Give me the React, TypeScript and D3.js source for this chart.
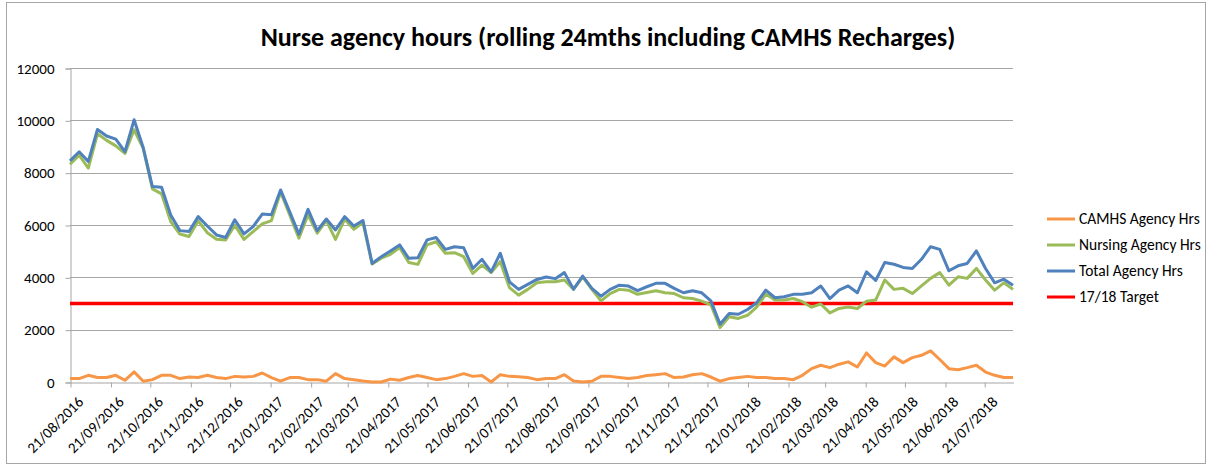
import * as d3 from "d3";
import { useEffect, useRef } from "react";

// weekly readings from 21/08/2016
const startDate = new Date(2016, 7, 21);

const camhsHrs = [
  130, 130, 255, 170, 170, 255, 65, 385, 30, 90, 255, 255, 130, 190, 170, 255, 170, 130, 215, 190,
  215, 345, 170, 30, 170, 170, 90, 90, 30, 320, 130, 90, 40, 0, 0, 110, 65, 170, 245, 170,
  90, 130, 215, 320, 215, 245, 0, 280, 215, 205, 170, 90, 130, 130, 280, 40, 0, 30, 215, 215,
  170, 130, 170, 245, 280, 320, 170, 190, 280, 320, 190, 30, 130, 170, 215, 170, 170, 130, 130, 90,
  255, 510, 640, 550, 680, 770, 575, 1110, 740, 610, 960, 740, 930, 1020, 1190, 860, 510, 470, 550, 640,
  380, 255, 170, 170,
];

const nursingHrs = [
  8320, 8670, 8175, 9485, 9235, 9025, 8735, 9640, 8925, 7380, 7190, 6130, 5655, 5560, 6155, 5705, 5455, 5430, 5990, 5450,
  5745, 6040, 6170, 7260, 6380, 5500, 6390, 5690, 6170, 5450, 6220, 5835, 6090, 4510, 4730, 4880, 5140, 4570, 4495, 5240,
  5360, 4920, 4940, 4790, 4150, 4470, 4180, 4600, 3610, 3320, 3540, 3790, 3830, 3830, 3900, 3540, 4020, 3540, 3100, 3380,
  3540, 3510, 3350, 3420, 3490, 3410, 3380, 3220, 3190, 3090, 2950, 2080, 2490, 2430, 2550, 2860, 3360, 3130, 3130, 3190,
  3070, 2860, 2980, 2640, 2810, 2870, 2810, 3090, 3130, 3900, 3540, 3580, 3380, 3670, 3960, 4180, 3700, 4020, 3960, 4340,
  3900, 3510, 3790, 3540,
];

const totalHrs = [
  8450, 8800, 8430, 9650, 9400, 9280, 8800, 10020, 8950, 7470, 7445, 6385, 5785, 5750, 6320, 5960, 5620, 5520, 6200, 5660,
  5940, 6420, 6390, 7340, 6500, 5650, 6600, 5785, 6230, 5810, 6320, 5960, 6170, 4530, 4790, 5010, 5240, 4725, 4750, 5430,
  5520, 5070, 5170, 5130, 4340, 4690, 4210, 4920, 3830, 3540, 3730, 3920, 4010, 3950, 4180, 3550, 4050, 3580, 3280, 3540,
  3700, 3665, 3490, 3640, 3770, 3770, 3580, 3410, 3490, 3410, 3100, 2210, 2620, 2590, 2770, 3030, 3510, 3220, 3260, 3350,
  3350, 3410, 3670, 3190, 3510, 3670, 3410, 4210, 3880, 4570, 4500, 4380, 4340, 4690, 5170, 5070, 4250, 4440, 4530, 5010,
  4340, 3790, 3930, 3700,
];

const target = 3000;

const seriesNames = ["CAMHS Agency Hrs", "Nursing Agency Hrs", "Total Agency Hrs", "17/18 Target"];
const seriesColors = ["#F79646", "#9BBB59", "#4F81BD", "#FF0000"];

const yTicks = [0, 2000, 4000, 6000, 8000, 10000, 12000];
// monthly tick labels on the 21st
const xTicks = d3.range(24).map((i) => new Date(2016, 7 + i, 21));

const font = "Carlito, Calibri, Lato, sans-serif";

export default function App() {
  const ref = useRef<SVGSVGElement>(null);

  useEffect(() => {
    const svg = d3.select(ref.current);
    svg.selectAll("*").remove();

    const width = 1208;
    const dates = totalHrs.map((_, i) => d3.timeDay.offset(startDate, i * 7));

    const x = d3.scaleTime().domain([dates[0], dates[dates.length - 1]]).range([70, 1013]);
    const y = d3.scaleLinear().domain([0, 12000]).range([382, 68]);

    svg.append("rect")
      .attr("x", 6.5).attr("y", 2.5)
      .attr("width", width - 9).attr("height", 461)
      .attr("fill", "white").attr("stroke", "#A6A6A6");

    svg.append("text")
      .attr("x", 608).attr("y", 46)
      .attr("text-anchor", "middle")
      .style("font-family", font).style("font-weight", "bold").style("font-size", "26px")
      .text("Nurse agency hours (rolling 24mths including CAMHS Recharges)");

    // gridlines
    svg.append("g").selectAll("line").data(yTicks.slice(1)).enter().append("line")
      .attr("x1", 70).attr("x2", 1013)
      .attr("y1", (d) => Math.round(y(d)) + 0.5).attr("y2", (d) => Math.round(y(d)) + 0.5)
      .attr("stroke", "#A6A6A6");

    const yAxis = svg.append("g")
      .attr("transform", "translate(70.5,0.5)")
      .call(d3.axisLeft(y).tickValues(yTicks).tickSize(5).tickPadding(11).tickFormat(d3.format("d")));
    yAxis.select(".domain").attr("stroke", "#A6A6A6");
    yAxis.selectAll(".tick line").attr("stroke", "#A6A6A6");
    yAxis.selectAll("text").style("font-family", font).style("font-size", "15px").attr("fill", "#000");

    const xAxis = svg.append("g")
      .attr("transform", `translate(0.5,${Math.round(y(0)) + 0.5})`)
      .call(d3.axisBottom(x).tickValues(xTicks).tickSize(5).tickSizeOuter(0).tickFormat(d3.timeFormat("%d/%m/%Y") as any));
    xAxis.select(".domain").attr("stroke", "#A6A6A6");
    xAxis.selectAll(".tick line").attr("stroke", "#A6A6A6");
    xAxis.selectAll("text")
      .style("font-family", font).style("font-size", "15px").attr("fill", "#000")
      .attr("text-anchor", "end")
      .attr("dy", "0.35em")
      .attr("transform", "translate(4,11) rotate(-45)");

    const line = d3.line<number>().x((_, i) => x(dates[i])).y((d) => y(d));

    svg.append("line")
      .attr("x1", 70).attr("x2", 1013)
      .attr("y1", y(target)).attr("y2", y(target))
      .attr("stroke", seriesColors[3]).attr("stroke-width", 3.5);

    [camhsHrs, nursingHrs, totalHrs].forEach((vals, k) => {
      svg.append("path")
        .datum(vals)
        .attr("d", line)
        .attr("fill", "none")
        .attr("stroke", seriesColors[k])
        .attr("stroke-width", 3)
        .attr("stroke-linejoin", "round");
    });

    const legend = svg.append("g").attr("transform", "translate(1047,219)");
    seriesNames.forEach((name, i) => {
      const row = legend.append("g").attr("transform", `translate(0,${i * 26})`);
      row.append("line").attr("x1", 0).attr("x2", 28).attr("y1", 0).attr("y2", 0)
        .attr("stroke", seriesColors[i]).attr("stroke-width", 3);
      row.append("text").attr("x", 32).attr("y", 0).attr("dy", "0.35em")
        .style("font-family", font).style("font-size", "15.5px")
        .text(name);
    });
  }, []);

  return (
    <svg ref={ref} width={1208} height={466} style={{ position: "absolute", left: 0, top: 0 }} />
  );
}
